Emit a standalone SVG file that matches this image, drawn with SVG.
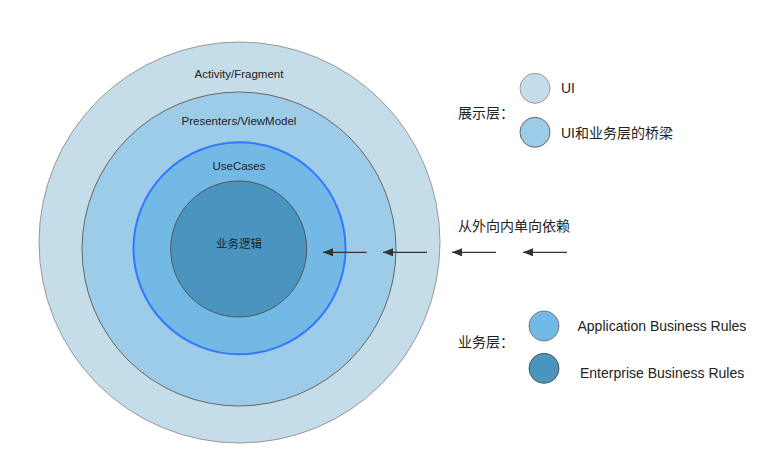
<svg xmlns="http://www.w3.org/2000/svg" width="775" height="462" viewBox="0 0 775 462">
<style>
.t{font-family:"Liberation Sans","Noto Sans CJK SC",sans-serif;fill:#222}
.c1{fill:#C5DCE9;stroke:#999;stroke-width:1}
.c2{fill:#9DCCE8;stroke:#666;stroke-width:1}
.c3{fill:#72B9E5;stroke:#3377FF;stroke-width:2}
.c3l{fill:#72B9E5;stroke:#777;stroke-width:1}
.c4{fill:#4A94C0;stroke:#555;stroke-width:1}
.a{stroke:#333;stroke-width:1.2;fill:none}
</style>
<defs>
<marker id="ah" viewBox="0 0 10 8" refX="10" refY="4" markerWidth="10" markerHeight="8" markerUnits="userSpaceOnUse" orient="auto">
<path d="M0,0 L10,4 L0,8 Z" fill="#333"/>
</marker>
</defs>
<rect width="775" height="462" fill="#fff"/>
<g id="outer"><circle class="c1" cx="239.5" cy="242.5" r="200.5"/><text class="t" x="239" y="78" font-size="11.5" text-anchor="middle">Activity/Fragment</text></g>
<g id="presenters"><circle class="c2" cx="239" cy="249" r="157"/><text class="t" x="239" y="125" font-size="11.5" text-anchor="middle">Presenters/ViewModel</text></g>
<g id="usecases"><circle class="c3" cx="239.5" cy="248.3" r="106"/><text class="t" x="239" y="170" font-size="11.5" text-anchor="middle">UseCases</text></g>
<g id="logic"><circle class="c4" cx="238.7" cy="249" r="68"/><text class="t" x="239" y="248" font-size="11.5" text-anchor="middle">业务逻辑</text></g>
<g id="connectors">
<line class="a" x1="366.7" y1="252.3" x2="323" y2="252.3" marker-end="url(#ah)"/>
<line class="a" x1="427" y1="252.3" x2="383" y2="252.3" marker-end="url(#ah)"/>
<line class="a" x1="496" y1="252.3" x2="452" y2="252.3" marker-end="url(#ah)"/>
<line class="a" x1="567" y1="252.3" x2="523" y2="252.3" marker-end="url(#ah)"/>
</g>
<g id="dep-label"><text class="t" x="458" y="231" font-size="14">从外向内单向依赖</text></g>
<g id="legend-ui">
<text class="t" x="458" y="118" font-size="14">展示层：</text>
<circle class="c1" cx="535" cy="88.3" r="15"/>
<text class="t" x="561" y="93" font-size="14">UI</text>
<circle class="c2" cx="535" cy="132.3" r="15"/>
<text class="t" x="561" y="138" font-size="14">UI和业务层的桥梁</text>
</g>
<g id="legend-biz">
<text class="t" x="458" y="347" font-size="14">业务层：</text>
<circle class="c3l" cx="544" cy="326" r="15"/>
<text class="t" x="577.5" y="331" font-size="14">Application Business Rules</text>
<circle class="c4" cx="544" cy="368.3" r="15"/>
<text class="t" x="580" y="378" font-size="14">Enterprise Business Rules</text>
</g>
</svg>
